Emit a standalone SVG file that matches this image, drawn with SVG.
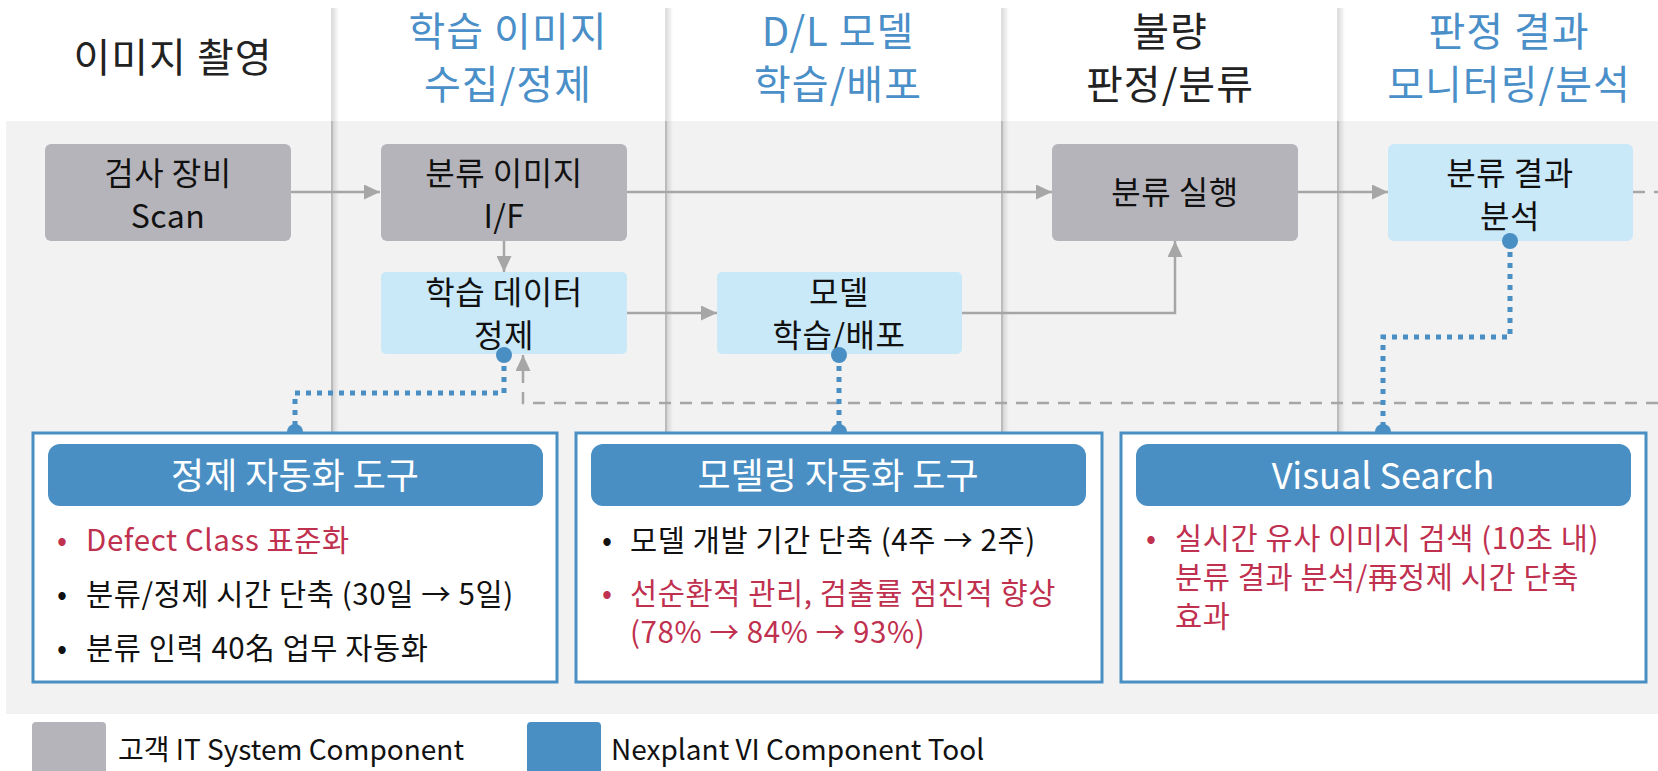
<svg xmlns="http://www.w3.org/2000/svg" width="1658" height="771" viewBox="0 0 1658 771">
<defs>
<style>
text{font-family:"Noto Sans CJK KR","Noto Sans",sans-serif;}
.hd{font-size:40px;text-anchor:middle;letter-spacing:1px;}
.hb{fill:#4a8fc8;}
.hk{fill:#222;}
.nt{font-size:32px;text-anchor:middle;fill:#111;letter-spacing:0.5px;}
.gray{fill:#b5b4ba;}
.lblue{fill:#c9e8f8;}
.conn{fill:none;stroke:#a6a6a6;stroke-width:2.5;}
.dash{stroke-dasharray:12 9;}
.dot{fill:none;stroke:#4a8fc4;stroke-width:5;stroke-dasharray:5 6;}
.pin{fill:#4a8fc4;}
.box{fill:#fff;stroke:#4a8fc4;stroke-width:3;}
.bar{fill:#4a8fc4;}
.bt{font-size:36px;fill:#fff;text-anchor:middle;}
.bl{font-size:29.5px;letter-spacing:0.6px;}
.red{fill:#c0304f;}
.blk{fill:#111;}
.lg{font-size:28px;fill:#111;}
</style>
<marker id="ah" markerUnits="userSpaceOnUse" markerWidth="16" markerHeight="15" refX="16" refY="7.5" orient="auto">
<path d="M0,0 L16,7.5 L0,15 z" fill="#a6a6a6"/>
</marker>
<linearGradient id="sh" x1="0" y1="0" x2="1" y2="0">
<stop offset="0" stop-color="#000" stop-opacity="0.12"/>
<stop offset="1" stop-color="#000" stop-opacity="0"/>
</linearGradient>
</defs>
<rect width="1658" height="771" fill="#fff"/>
<rect x="6" y="121" width="1652" height="593" fill="#f2f2f2"/>

<g id="dividers">
<rect x="333" y="8" width="6" height="424" fill="url(#sh)"/>
<rect x="667" y="8" width="6" height="424" fill="url(#sh)"/>
<rect x="1003" y="8" width="6" height="424" fill="url(#sh)"/>
<rect x="1339" y="8" width="6" height="424" fill="url(#sh)"/>
<g stroke="#d4d4d4" stroke-width="1.5">
<line x1="332" y1="8" x2="332" y2="121"/><line x1="666" y1="8" x2="666" y2="121"/>
<line x1="1002" y1="8" x2="1002" y2="121"/><line x1="1338" y1="8" x2="1338" y2="121"/>
</g>
<g stroke="#a9a9a9" stroke-width="1.5">
<line x1="332" y1="121" x2="332" y2="432"/><line x1="666" y1="121" x2="666" y2="432"/>
<line x1="1002" y1="121" x2="1002" y2="432"/><line x1="1338" y1="121" x2="1338" y2="432"/>
</g>
</g>

<g id="headers">
<text class="hd hk" x="173" y="72">이미지 촬영</text>
<text class="hd hb" x="508" y="46">학습 이미지</text>
<text class="hd hb" x="508" y="99">수집/정제</text>
<text class="hd hb" x="838" y="46">D/L 모델</text>
<text class="hd hb" x="838" y="99">학습/배포</text>
<text class="hd hk" x="1170" y="46">불량</text>
<text class="hd hk" x="1170" y="99">판정/분류</text>
<text class="hd hb" x="1509" y="46">판정 결과</text>
<text class="hd hb" x="1509" y="99">모니터링/분석</text>
</g>

<g id="connectors">
<path class="conn" d="M291,192 H380" marker-end="url(#ah)"/>
<path class="conn" d="M627,192 H1052" marker-end="url(#ah)"/>
<path class="conn" d="M1298,192 H1388" marker-end="url(#ah)"/>
<path class="conn dash" d="M1633,192 H1658"/>
<path class="conn" d="M504,241 V272" marker-end="url(#ah)"/>
<path class="conn" d="M627,313 H717" marker-end="url(#ah)"/>
<path class="conn" d="M962,313 H1175 V241" marker-end="url(#ah)"/>
<path class="conn dash" d="M1658,403 H523 V355" marker-end="url(#ah)"/>
<path class="dot" d="M504,355 V393 H295 V432"/>
<path class="dot" d="M839,355 V432"/>
<path class="dot" d="M1510,241 V337 H1383 V432"/>
</g>

<g id="n-scan">
<rect class="gray" x="45" y="144" width="246" height="97" rx="6"/>
<text class="nt" x="168" y="185">검사 장비</text>
<text class="nt" x="168" y="228">Scan</text>
</g>
<g id="n-if">
<rect class="gray" x="381" y="144" width="246" height="97" rx="6"/>
<text class="nt" x="504" y="185">분류 이미지</text>
<text class="nt" x="504" y="228">I/F</text>
</g>
<g id="n-clean">
<rect class="lblue" x="381" y="272" width="246" height="82" rx="5"/>
<text class="nt" x="504" y="304">학습 데이터</text>
<text class="nt" x="504" y="347">정제</text>
</g>
<g id="n-model">
<rect class="lblue" x="717" y="272" width="245" height="82" rx="5"/>
<text class="nt" x="839" y="304">모델</text>
<text class="nt" x="839" y="347">학습/배포</text>
</g>
<g id="n-run">
<rect class="gray" x="1052" y="144" width="246" height="97" rx="6"/>
<text class="nt" x="1175" y="204">분류 실행</text>
</g>
<g id="n-result">
<rect class="lblue" x="1388" y="144" width="245" height="97" rx="6"/>
<text class="nt" x="1510" y="185">분류 결과</text>
<text class="nt" x="1510" y="228">분석</text>
</g>

<g id="pins">
<circle class="pin" cx="504" cy="355" r="8"/>
<circle class="pin" cx="295" cy="432" r="8"/>
<circle class="pin" cx="839" cy="355" r="8"/>
<circle class="pin" cx="839" cy="432" r="8"/>
<circle class="pin" cx="1510" cy="241" r="8"/>
<circle class="pin" cx="1383" cy="432" r="8"/>
</g>

<g id="tool-clean">
<rect class="box" x="33" y="433" width="524" height="249"/>
<rect class="bar" x="48" y="444" width="495" height="62" rx="12"/>
<text class="bt" x="295" y="489">정제 자동화 도구</text>
<text class="bl red" x="57" y="551">•</text>
<text class="bl red" x="86" y="551">Defect Class 표준화</text>
<text class="bl blk" x="57" y="605">•</text>
<text class="bl blk" x="86" y="605">분류/정제 시간 단축 (30일 → 5일)</text>
<text class="bl blk" x="57" y="659">•</text>
<text class="bl blk" x="86" y="659">분류 인력 40名 업무 자동화</text>
</g>
<g id="tool-model">
<rect class="box" x="576" y="433" width="526" height="249"/>
<rect class="bar" x="591" y="444" width="495" height="62" rx="12"/>
<text class="bt" x="838" y="489">모델링 자동화 도구</text>
<text class="bl blk" x="602" y="551">•</text>
<text class="bl blk" x="630" y="551">모델 개발 기간 단축 (4주 → 2주)</text>
<text class="bl red" x="602" y="604">•</text>
<text class="bl red" x="630" y="604">선순환적 관리, 검출률 점진적 향상</text>
<text class="bl red" x="630" y="643">(78% → 84% → 93%)</text>
</g>
<g id="tool-search">
<rect class="box" x="1121" y="433" width="525" height="249"/>
<rect class="bar" x="1136" y="444" width="495" height="62" rx="12"/>
<text class="bt" x="1383" y="489">Visual Search</text>
<text class="bl red" x="1146" y="549">•</text>
<text class="bl red" x="1175" y="549">실시간 유사 이미지 검색 (10초 내)</text>
<text class="bl red" x="1175" y="588">분류 결과 분석/再정제 시간 단축</text>
<text class="bl red" x="1175" y="627">효과</text>
</g>

<g id="legend">
<rect class="gray" x="32" y="722" width="74" height="60" rx="4"/>
<text class="lg" x="118" y="760">고객 IT System Component</text>
<rect class="bar" x="527" y="722" width="74" height="60" rx="4"/>
<text class="lg" x="611" y="760">Nexplant VI Component Tool</text>
</g>
</svg>
